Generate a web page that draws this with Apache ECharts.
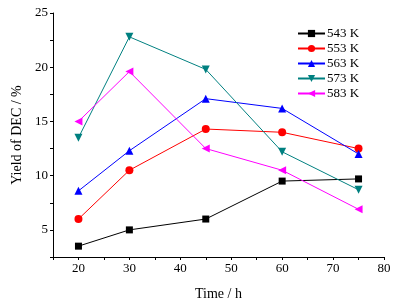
<!DOCTYPE html>
<html>
<head>
    <meta charset="UTF-8">
    <title>Yield of DEC</title>
    <script type="text/javascript" src="https://cdn.jsdelivr.net/npm/echarts@6/dist/echarts.min.js"></script>
</head>
<body style="margin:0">
    <div id="dec_chart" style="width:394px; height:306px;"></div>
    <script>
        var times = [20, 30, 45, 60, 75];
        var k543 = [3.5, 5.0, 6.0, 9.5, 9.7];
        var k553 = [6.0, 10.5, 14.3, 14.0, 12.5];
        var k563 = [8.6, 12.3, 17.1, 16.2, 12.0];
        var k573 = [13.5, 22.8, 19.8, 12.2, 8.7];
        var k583 = [15.0, 19.6, 12.5, 10.5, 6.9];
        var xLabels = [20, 30, 40, 50, 60, 70, 80];
        var yLabels = [5, 10, 15, 20, 25];

        var font = '"Liberation Serif", "DejaVu Serif", serif';

        function pairs(vals) {
            return times.map(function (t, i) { return [t, vals[i]]; });
        }
        function mk(name, vals, color, symbol, rot) {
            return {
                type: 'line',
                name: name,
                data: pairs(vals),
                symbol: symbol,
                symbolRotate: rot,
                symbolSize: symbol === 'rect' ? 7 : 8,
                color: color,
                lineStyle: { width: 1, color: color },
                itemStyle: { color: color },
                animation: false
            };
        }

        var chart_dec = echarts.init(document.getElementById('dec_chart'), null, {renderer: 'canvas'});
        var option_dec = {
            animation: false,
            grid: { left: 53, right: 10, top: 13, bottom: 45 },
            legend: {
                orient: 'vertical',
                left: 292,
                top: 22,
                itemWidth: 27,
                itemHeight: 9,
                itemGap: 2,
                textStyle: { fontFamily: font, fontSize: 13, color: '#000', padding: [0, 0, 0, -3] },
                data: ['543 K', '553 K', '563 K', '573 K', '583 K']
            },
            xAxis: {
                type: 'value',
                min: 15, max: 80, interval: 5,
                name: 'Time / h',
                nameLocation: 'middle',
                nameGap: 30,
                nameTextStyle: { fontFamily: font, fontSize: 14, color: '#000' },
                splitLine: { show: false },
                axisLine: { lineStyle: { color: '#000', width: 1 } },
                axisTick: { length: 3, lineStyle: { color: '#000' } },
                axisLabel: { customValues: xLabels, fontFamily: font, fontSize: 13, color: '#000', margin: 5 }
            },
            yAxis: {
                type: 'value',
                min: 2.5, max: 25, interval: 2.5,
                name: 'Yield of DEC / %',
                nameLocation: 'middle',
                nameGap: 22,
                nameTextStyle: { fontFamily: font, fontSize: 14, color: '#000' },
                splitLine: { show: false },
                axisLine: { show: true, lineStyle: { color: '#000', width: 1 } },
                axisTick: { show: true, length: 3, lineStyle: { color: '#000' } },
                axisLabel: { customValues: yLabels, fontFamily: font, fontSize: 13, color: '#000', margin: 5 }
            },
            series: [
                mk('543 K', k543, '#000000', 'rect', 0),
                mk('553 K', k553, '#ff0000', 'circle', 0),
                mk('563 K', k563, '#0000ff', 'triangle', 0),
                mk('573 K', k573, '#008080', 'triangle', 180),
                mk('583 K', k583, '#ff00ff', 'triangle', 90)
            ]
        };
        chart_dec.setOption(option_dec);
    </script>
</body>
</html>
